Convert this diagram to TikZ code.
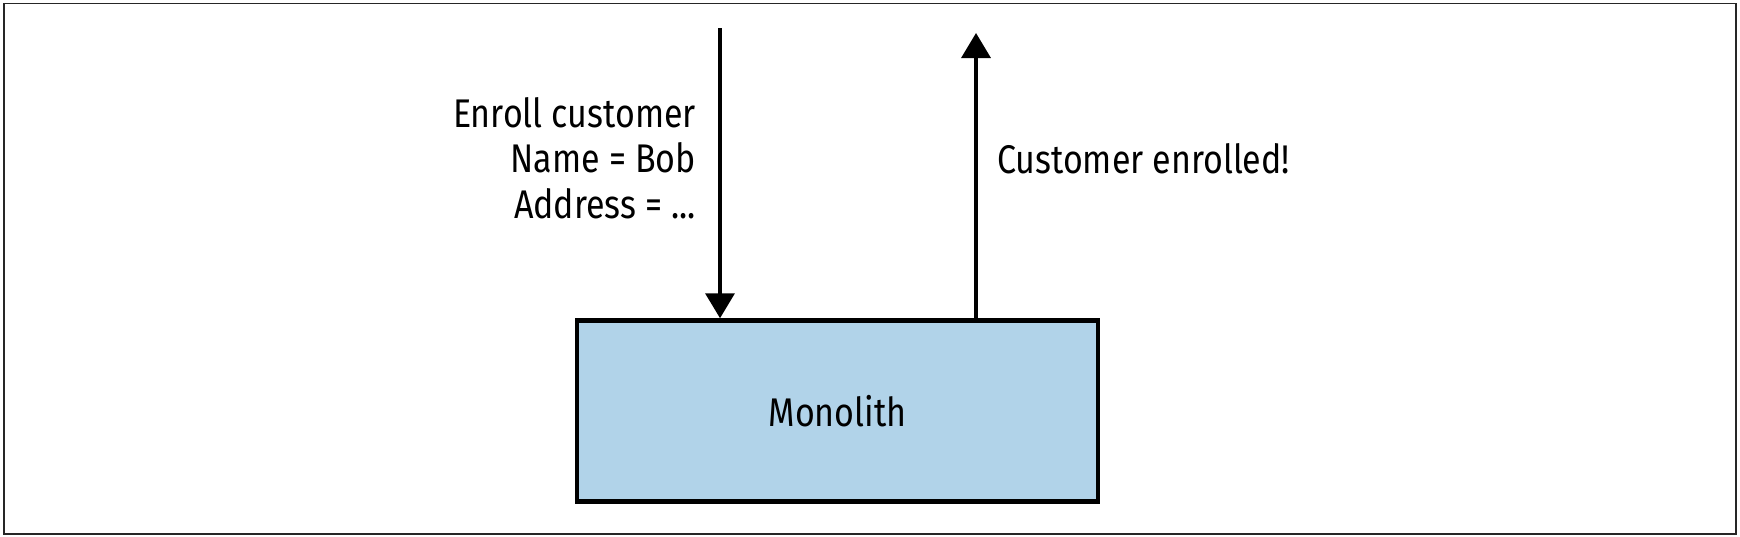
\documentclass[tikz,border=0pt]{standalone}
\usepackage{fontspec}
\setmainfont{Fira Sans}[FakeStretch=0.85]
\usetikzlibrary{arrows.meta}
\definecolor{boxblue}{HTML}{B1D3E9}
\tikzset{
  frame/.style={draw=black!85, line width=1.6pt},
  sysbox/.style={draw=black, fill=boxblue, line width=4.5pt, minimum width=521pt, minimum height=181pt, inner sep=0pt, font=\fontsize{40}{45}\selectfont},
  flow/.style={draw=black, line width=3.5pt, -{Triangle[width=29pt,length=25pt]}},
  lbl/.style={inner sep=0pt, font=\fontsize{40}{45.5}\selectfont}
}
\begin{document}
\begin{tikzpicture}[x=1pt,y=-1pt]
\useasboundingbox (0,0) rectangle (1740,536);
\draw[frame] (4,3.5) rectangle (1736,534);
\node[sysbox] (mono) at (837.5,411) {Monolith};
\coordinate (inTop) at (720,28);
\coordinate (inEnd) at (inTop |- mono.north);
\coordinate (outStart) at (976,411);
\coordinate (outBase) at (outStart |- mono.north);
\coordinate (outTop) at (976,33);
\draw[flow] (inTop) -- (inEnd);
\draw[flow] (outBase) -- (outTop);
\node[lbl, align=right, anchor=base east] (req) at (696,218) {Enroll customer\\Name = Bob\\Address = ...};
\node[lbl, anchor=base west] (resp) at (997,173) {Customer enrolled!};
\end{tikzpicture}
\end{document}
